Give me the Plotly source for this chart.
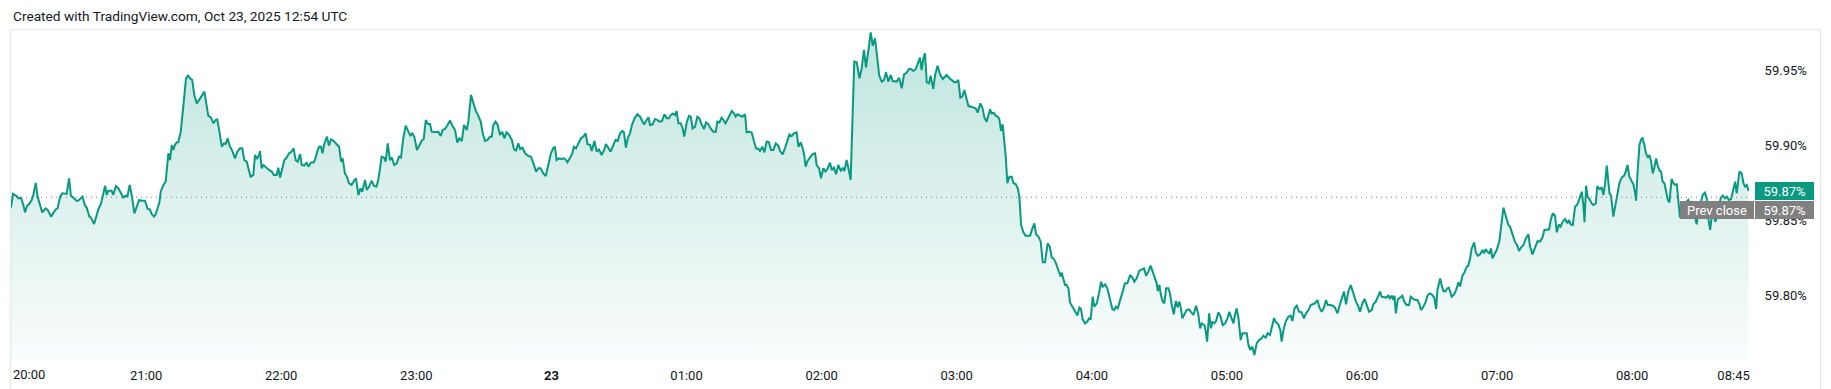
import pandas as pd
import plotly.graph_objects as go

# ---------------- data ----------------
session_start = "2025-10-22 20:00"
minutes_after_start = [
    0.0, 0.9, 2.5, 3.3, 4.3, 4.7, 5.5, 6.2, 7.1, 8.0, 9.2, 9.9, 11.0, 11.8, 12.9, 13.9, 15.4, 16.3, 17.8, 18.8,
    19.8, 20.7, 21.8, 22.8, 24.0, 24.7, 25.8, 26.6, 27.7, 29.2, 29.9, 31.7, 32.9, 33.6, 34.8, 35.5, 36.9, 38.0, 38.8, 40.0,
    41.8, 42.5, 43.2, 44.0, 44.7, 45.4, 46.6, 47.7, 49.2, 49.9, 51.0, 51.7, 52.7, 53.6, 54.8, 55.5, 56.9, 58.0, 59.5, 60.7,
    61.7, 62.5, 63.5, 64.3, 65.1, 65.9, 66.5, 67.7, 68.7, 69.1, 69.9, 70.6, 71.4, 72.1, 72.8, 73.6, 74.3, 75.4, 76.1, 76.8,
    77.7, 78.6, 79.5, 80.5, 81.4, 82.5, 84.0, 85.4, 85.9, 86.6, 87.6, 88.8, 89.9, 90.9, 91.6, 92.5, 93.6, 94.5, 95.3, 96.2,
    97.1, 98.0, 99.5, 100.5, 101.7, 102.7, 103.6, 104.7, 105.7, 106.4, 107.6, 108.4, 109.3, 110.1, 110.6, 111.3, 112.1, 113.6, 115.0, 115.8,
    116.7, 118.0, 118.7, 119.5, 120.5, 121.4, 122.4, 123.5, 124.6, 125.5, 126.4, 127.3, 128.4, 129.1, 130.3, 131.3, 132.1, 133.2, 134.3, 135.0,
    136.0, 136.8, 137.7, 138.3, 139.2, 140.3, 141.2, 142.1, 143.2, 144.6, 145.7, 146.6, 147.3, 148.3, 149.2, 150.1, 151.3, 152.5, 153.2, 154.3,
    155.2, 156.0, 157.2, 158.0, 159.0, 160.2, 161.2, 162.3, 163.1, 163.9, 164.6, 165.7, 166.4, 167.3, 168.3, 169.1, 170.2, 171.3, 172.3, 173.2,
    174.2, 175.3, 176.5, 177.4, 178.2, 179.1, 180.3, 181.4, 182.4, 183.3, 184.2, 185.1, 186.1, 186.8, 188.0, 189.0, 189.8, 190.8, 191.7, 192.7,
    193.9,
    195.0, 196.2, 197.2, 198.2, 199.1, 200.2, 201.2, 202.4, 203.1, 204.3, 205.3, 206.4, 207.5, 208.6, 209.5, 210.5, 211.6, 212.7, 213.5, 214.2,
    215.2, 216.1, 217.2, 218.2, 219.1, 220.1, 221.3, 222.4, 223.4, 224.3, 225.3, 226.1, 227.1, 228.3, 229.8, 230.9, 232.0, 233.2, 234.2, 235.2,
    236.4, 237.5, 238.6, 239.8, 240.9, 241.6, 242.3, 243.4, 244.6, 245.6, 246.5, 247.1, 248.3, 249.3, 250.0, 250.9, 252.0, 253.1, 254.2, 255.2,
    256.0, 257.2, 257.9, 259.1, 260.1, 261.1, 262.3, 263.4, 264.2, 265.3, 266.3, 267.5, 268.5, 269.4, 270.5, 271.5, 272.2, 273.1, 273.9, 274.9,
    275.9, 277.1, 278.2, 279.4, 280.1, 281.1, 282.3, 283.1, 283.8, 285.0, 286.0, 287.1, 287.9, 289.1, 290.2, 291.2, 292.2, 293.0, 293.9, 294.9,
    295.6, 296.4, 297.4, 298.2, 299.0, 300.1, 301.1, 301.9, 302.7, 303.8, 304.8, 305.7, 306.7, 307.8, 308.7, 309.7, 310.7, 311.9, 313.0, 313.7,
    314.6, 315.6, 316.4, 317.3, 318.1, 319.0, 320.1, 321.1, 321.8, 322.6, 323.8, 324.8, 326.0, 326.7, 327.8, 328.9, 330.0, 330.9, 331.9, 332.6,
    333.7, 334.6, 335.6, 336.6, 337.5, 338.6, 339.6, 340.8, 341.5, 342.7, 343.8, 344.8, 345.7, 346.7, 347.7, 348.9, 349.7, 350.7, 351.6, 352.3,
    352.9, 353.8, 354.9, 356.0, 357.1, 357.8, 358.9, 359.7, 360.8, 361.7, 362.6, 363.7, 364.5, 365.5, 366.4, 367.4, 368.5, 369.4, 370.1, 371.1,
    372.2, 372.9, 374.5, 375.6, 376.8, 377.8, 378.8, 379.7, 380.8, 381.8, 382.7, 383.7, 384.5, 385.6, 386.7, 387.7, 388.6, 389.6, 390.7, 391.6,
    393.3, 394.4, 395.6, 396.6, 397.8, 398.8, 399.7, 400.7, 401.8, 402.7, 403.7, 404.4, 405.2, 405.9, 406.7, 407.7, 408.4, 409.6, 410.4, 411.5,
    412.6, 413.8, 414.5, 415.5, 416.6, 417.8, 418.9, 419.8, 420.7, 421.6, 422.5, 423.4, 424.4, 425.2, 426.4, 427.4, 428.4, 429.3, 430.5, 431.4,
    432.3, 433.3, 434.1, 434.8, 435.5, 436.4, 437.3, 438.2, 438.9, 439.7, 440.4, 441.0, 441.7, 442.5, 443.4, 444.4, 445.2, 446.2, 447.1, 447.8,
    448.6, 449.6, 450.6, 451.5, 452.6, 453.6, 454.5, 455.2, 456.3, 457.3, 458.2, 459.2, 460.0, 460.4, 461.3, 462.2, 463.2, 464.1, 465.1, 466.2,
    466.6, 467.4, 468.1, 468.8, 469.6, 470.3, 471.4, 472.5, 473.6, 474.5, 475.2, 475.9, 477.0, 478.0, 478.8, 479.5, 480.4, 481.1, 482.2, 483.2,
    484.1, 484.8, 485.9, 486.9, 488.1, 489.1, 489.9, 490.7, 491.5, 492.5, 493.7, 494.7, 495.8, 497.0, 498.0, 498.9, 499.9, 501.1, 502.2, 503.2,
    504.1, 505.1, 506.1, 507.0, 508.1, 508.8, 509.3, 510.0, 510.7, 511.5, 512.2, 513.0, 514.0, 514.7, 515.5, 516.4, 517.3, 518.1, 518.9, 519.5,
    520.2, 521.1, 522.1, 523.2, 524.1, 525.1, 526.3, 527.3, 528.1, 528.8, 530.0, 530.6, 531.2, 532.1, 532.9, 533.5, 534.4, 535.2, 536.2, 537.2,
    538.1, 539.2, 540.2, 541.1, 541.8, 542.9, 543.6, 544.3, 545.1, 546.1, 546.9, 547.6, 548.8, 549.5, 550.3, 551.3, 552.2, 553.2, 554.3, 555.4,
    556.2, 557.2, 558.1, 559.1, 559.9, 560.9, 561.8, 562.8, 563.7, 564.3, 565.1, 566.1, 567.3, 568.3, 569.1, 570.0, 571.0, 572.0, 573.2, 574.2,
    575.1, 576.2, 577.2, 578.4, 579.1, 580.2, 581.1, 582.1, 583.1, 584.0, 584.8,
    585.8, 587.0, 588.0, 589.1, 590.2, 591.1, 592.0, 592.9, 593.9, 595.0, 596.2, 597.3, 598.4, 599.1, 600.2, 601.1, 602.1, 603.1, 604.3, 605.0,
    606.1, 607.0, 608.0, 608.7, 609.8, 610.7, 611.7, 612.4, 613.2, 613.9, 614.4, 615.0, 615.9, 616.9, 617.9, 618.7, 619.8, 620.9, 621.6, 622.5,
    623.6, 624.6, 625.5, 626.2, 627.3, 628.3, 629.2, 630.2, 631.2, 632.1, 632.9, 633.5, 634.7, 635.4, 636.1, 636.9, 637.9, 638.6, 639.8, 640.9,
    641.8, 642.8, 643.5, 644.6, 645.5, 646.5, 647.2, 648.0, 648.7, 649.8, 650.5, 651.4, 652.4, 653.5, 654.2, 654.9, 655.7, 656.6, 657.3, 657.9,
    658.8, 659.8, 661.0, 661.6, 662.8, 663.8, 665.0, 665.7, 666.8, 667.9, 669.0, 669.7, 670.6, 671.7, 672.7, 673.9, 674.6, 675.7, 676.4, 677.3,
    678.0, 679.1, 680.1, 681.0, 682.0, 683.1, 683.8, 684.7, 685.7, 686.5, 687.4, 688.2, 689.1, 690.2, 691.2, 691.9, 692.7, 693.6, 694.6, 695.4,
    696.1, 696.8, 697.6, 698.3, 698.8, 699.5, 700.2, 701.0, 702.0, 702.8, 703.8, 704.5, 705.4, 706.5, 707.2, 707.9, 708.7, 709.9, 710.6, 711.6,
    712.5, 713.4, 714.3, 715.3, 716.4, 717.1, 717.9, 718.7, 719.8, 720.5, 721.3, 721.7, 722.3, 723.2, 723.9, 724.5, 725.4, 726.1, 726.9, 727.6,
    728.4, 729.1, 729.8, 730.6, 731.3, 732.1, 732.8, 733.5, 734.3, 735.0, 735.8, 736.5, 737.1, 737.5, 738.3, 739.0, 739.8, 740.5, 741.2, 742.0,
    742.7, 743.5, 744.2, 744.9, 745.7, 746.4, 747.2, 747.9, 748.6, 749.4, 750.4, 751.3, 752.3, 753.1, 753.8, 754.6, 755.3, 756.0, 756.8, 757.5,
    758.3, 759.3, 760.2, 761.2, 762.0, 762.9, 763.9, 764.9, 765.7, 766.4, 767.2, 767.6, 768.6, 769.4, 770.1, 770.9, 771.6,
]
yield_pct = [
    59.8586, 59.8677, 59.8663, 59.8648, 59.8652, 59.8641, 59.8603, 59.8554, 59.8597, 59.8610, 59.8637, 59.8670, 59.8750, 59.8659, 59.8603, 59.8554, 59.8581, 59.8570, 59.8526, 59.8548,
    59.8574, 59.8581, 59.8659, 59.8681, 59.8677, 59.8677, 59.8781, 59.8666, 59.8652, 59.8630, 59.8632, 59.8659, 59.8599, 59.8586, 59.8526, 59.8519, 59.8477, 59.8537, 59.8574, 59.8614,
    59.8732, 59.8670, 59.8697, 59.8699, 59.8699, 59.8670, 59.8730, 59.8714, 59.8666, 59.8654, 59.8666, 59.8661, 59.8737, 59.8670, 59.8548, 59.8581, 59.8637, 59.8632, 59.8632, 59.8577,
    59.8574, 59.8543, 59.8526, 59.8543, 59.8577, 59.8621, 59.8692, 59.8737, 59.8759, 59.8826, 59.8948, 59.8903, 59.9003, 59.8970, 59.9003, 59.9021, 59.9021, 59.9092, 59.9181, 59.9303,
    59.9448, 59.9466, 59.9448, 59.9437, 59.9337, 59.9281, 59.9314, 59.9348, 59.9359, 59.9292, 59.9199, 59.9186, 59.9148, 59.9170, 59.9174, 59.9097, 59.8992, 59.9014, 59.9010, 59.9048,
    59.8997, 59.8974, 59.8914, 59.8959, 59.8981, 59.8981, 59.8903, 59.8892, 59.8832, 59.8792, 59.8803, 59.8937, 59.8914, 59.8932, 59.8963, 59.8848, 59.8870, 59.8848, 59.8832, 59.8826,
    59.8803, 59.8803, 59.8852, 59.8786, 59.8852, 59.8903, 59.8919, 59.8948, 59.8959, 59.8981, 59.8903, 59.8892, 59.8943, 59.8870, 59.8866, 59.8888, 59.8859, 59.8886, 59.8886, 59.8903,
    59.8959, 59.8992, 59.8992, 59.8948, 59.9014, 59.9059, 59.8999, 59.9041, 59.9032, 59.9008, 59.8992, 59.8892, 59.8914, 59.8814, 59.8792, 59.8748, 59.8737, 59.8770, 59.8781, 59.8670,
    59.8714, 59.8692, 59.8770, 59.8703, 59.8726, 59.8766, 59.8730, 59.8726, 59.8770, 59.8848, 59.8926, 59.8919, 59.8892, 59.9014, 59.8903, 59.8919, 59.8870, 59.8881, 59.8926, 59.8919,
    59.9048, 59.9132, 59.9092, 59.9063, 59.9081, 59.9059, 59.8970, 59.8999, 59.9032, 59.9043, 59.9170, 59.9143, 59.9143, 59.9092, 59.9088, 59.9088, 59.9092, 59.9063, 59.9103, 59.9110,
    59.9137,
    59.9166, 59.9126, 59.9103, 59.9019, 59.9048, 59.9030, 59.9137, 59.9103, 59.9159, 59.9337, 59.9292, 59.9232, 59.9199, 59.9159, 59.9081, 59.9030, 59.9037, 59.9059, 59.9059, 59.9137,
    59.9159, 59.9137, 59.9070, 59.9092, 59.9048, 59.9088, 59.9070, 59.9037, 59.8974, 59.8966, 59.9014, 59.8977, 59.8986, 59.8948, 59.8930, 59.8926, 59.8881, 59.8826, 59.8848, 59.8848,
    59.8814, 59.8797, 59.8870, 59.8948, 59.8986, 59.8988, 59.8903, 59.8914, 59.8910, 59.8914, 59.8903, 59.8888, 59.8919, 59.8948, 59.8992, 59.8981, 59.9014, 59.9048, 59.9059, 59.9081,
    59.9010, 59.9003, 59.8963, 59.9030, 59.8959, 59.8974, 59.8937, 59.8970, 59.9010, 59.8981, 59.8959, 59.9003, 59.9037, 59.9030, 59.9081, 59.9097, 59.9088, 59.8986, 59.9048, 59.9081,
    59.9143, 59.9186, 59.9208, 59.9192, 59.9170, 59.9141, 59.9170, 59.9188, 59.9137, 59.9141, 59.9177, 59.9170, 59.9159, 59.9163, 59.9208, 59.9181, 59.9181, 59.9203, 59.9214, 59.9203,
    59.9230, 59.9148, 59.9148, 59.9119, 59.9059, 59.9154, 59.9197, 59.9192, 59.9114, 59.9126, 59.9192, 59.9181, 59.9141, 59.9110, 59.9154, 59.9143, 59.9114, 59.9092, 59.9092, 59.9159,
    59.9154, 59.9186, 59.9170, 59.9148, 59.9170, 59.9203, 59.9230, 59.9214, 59.9192, 59.9208, 59.9199, 59.9192, 59.9208, 59.9088, 59.9092, 59.9088, 59.9026, 59.8981, 59.8977, 59.8963,
    59.8992, 59.8954, 59.9026, 59.9021, 59.8970, 59.8970, 59.9014, 59.8999, 59.8963, 59.8941, 59.8986, 59.9026, 59.9074, 59.9063, 59.9081, 59.9088, 59.8992, 59.9021, 59.8981, 59.8932,
    59.8859, 59.8899, 59.8919, 59.8943, 59.8948, 59.8870, 59.8848, 59.8781, 59.8848, 59.8826, 59.8843, 59.8886, 59.8837, 59.8852, 59.8808, 59.8870, 59.8832, 59.8848, 59.8830, 59.8903,
    59.8826, 59.8770, 59.9559, 59.9554, 59.9448, 59.9514, 59.9637, 59.9521, 59.9637, 59.9754, 59.9666, 59.9714, 59.9614, 59.9466, 59.9426, 59.9437, 59.9488, 59.9426, 59.9470, 59.9430,
    59.9426, 59.9452, 59.9381, 59.9474, 59.9486, 59.9510, 59.9510, 59.9497, 59.9510, 59.9548, 59.9586, 59.9503, 59.9581, 59.9614, 59.9421, 59.9414, 59.9466, 59.9377, 59.9470, 59.9532,
    59.9474, 59.9443, 59.9452, 59.9470, 59.9452, 59.9437, 59.9421, 59.9421, 59.9437, 59.9319, 59.9326, 59.9370, 59.9297, 59.9263, 59.9259, 59.9254, 59.9248, 59.9219, 59.9281, 59.9252,
    59.9186, 59.9159, 59.9208, 59.9241, 59.9214, 59.9219, 59.9199, 59.9192, 59.9177, 59.9097, 59.9141, 59.9059, 59.8937, 59.8748, 59.8792, 59.8792, 59.8748, 59.8743, 59.8714, 59.8659,
    59.8470, 59.8421, 59.8399, 59.8399, 59.8399, 59.8448, 59.8481, 59.8410, 59.8392, 59.8359, 59.8221, 59.8221, 59.8303, 59.8348, 59.8326, 59.8254, 59.8243, 59.8214, 59.8170, 59.8126,
    59.8154, 59.8097, 59.8070, 59.8070, 59.8048, 59.7954, 59.7926, 59.7892, 59.7866, 59.7919, 59.7910, 59.7843, 59.7814, 59.7826, 59.7848, 59.7843, 59.7992, 59.7926, 59.7948, 59.8014,
    59.8092, 59.8059, 59.8074, 59.8048, 59.7981, 59.7910, 59.7903, 59.7926, 59.7914, 59.7959, 59.8026, 59.8081, 59.8081, 59.8137, 59.8119, 59.8092, 59.8114, 59.8166, 59.8177, 59.8181,
    59.8132, 59.8159, 59.8199, 59.8163, 59.8119, 59.8081, 59.8030, 59.8070, 59.8003, 59.7959, 59.7948, 59.8048, 59.8048, 59.8014, 59.7937, 59.7874, 59.7963, 59.7921, 59.7959, 59.7919,
    59.7848, 59.7870, 59.7903, 59.7908, 59.7892, 59.7870, 59.7932, 59.7874, 59.7781, 59.7814, 59.7803, 59.7763, 59.7692, 59.7881, 59.7781, 59.7826, 59.7814, 59.7830, 59.7888, 59.7859,
    59.7803, 59.7814, 59.7848, 59.7892, 59.7859, 59.7814, 59.7874, 59.7914, 59.7852, 59.7703, 59.7748, 59.7748, 59.7748, 59.7674, 59.7637, 59.7659, 59.7603, 59.7681, 59.7703, 59.7714,
    59.7732, 59.7719, 59.7748, 59.7737, 59.7792, 59.7848, 59.7821, 59.7808, 59.7770, 59.7692, 59.7770, 59.7826, 59.7859, 59.7866, 59.7830, 59.7914, 59.7932, 59.7892, 59.7888, 59.7848,
    59.7881, 59.7903, 59.7937, 59.7941, 59.7948, 59.7970, 59.7919, 59.7892, 59.7919, 59.7970, 59.7937,
    59.7937, 59.7932, 59.7919, 59.7881, 59.7941, 59.7977, 59.8026, 59.7941, 59.8026, 59.8070, 59.8008, 59.7959, 59.7926, 59.7892, 59.7948, 59.7977, 59.7937, 59.7892, 59.7903, 59.7941,
    59.7959, 59.7992, 59.8026, 59.7992, 59.7986, 59.7986, 59.7999, 59.7981, 59.7999, 59.7970, 59.7999, 59.7881, 59.7974, 59.7986, 59.7999, 59.7959, 59.7937, 59.7937, 59.7992, 59.7981,
    59.7970, 59.7970, 59.7941, 59.7903, 59.7926, 59.7959, 59.8003, 59.8014, 59.8003, 59.7986, 59.7910, 59.8037, 59.8114, 59.8066, 59.8030, 59.8026, 59.8048, 59.8052, 59.7992, 59.8008,
    59.8037, 59.8088, 59.8059, 59.8132, 59.8154, 59.8192, 59.8199, 59.8248, 59.8314, 59.8354, 59.8288, 59.8266, 59.8274, 59.8303, 59.8281, 59.8310, 59.8292, 59.8281, 59.8314, 59.8248,
    59.8274, 59.8303, 59.8363, 59.8426, 59.8586, 59.8532, 59.8470, 59.8459, 59.8408, 59.8359, 59.8332, 59.8297, 59.8319, 59.8337, 59.8381, 59.8408, 59.8326, 59.8274, 59.8303, 59.8337,
    59.8363, 59.8359, 59.8386, 59.8437, 59.8437, 59.8441, 59.8503, 59.8548, 59.8532, 59.8421, 59.8474, 59.8459, 59.8492, 59.8510, 59.8481, 59.8503, 59.8474, 59.8470, 59.8592, 59.8603,
    59.8626, 59.8659, 59.8692, 59.8603, 59.8488, 59.8732, 59.8659, 59.8643, 59.8614, 59.8603, 59.8614, 59.8730, 59.8710, 59.8719, 59.8670, 59.8737, 59.8866, 59.8681, 59.8666, 59.8526,
    59.8603, 59.8681, 59.8748, 59.8786, 59.8799, 59.8826, 59.8870, 59.8792, 59.8759, 59.8741, 59.8681, 59.8632, 59.8803, 59.9003, 59.9037, 59.9054, 59.9003, 59.8948, 59.8919, 59.8937,
    59.8892, 59.8814, 59.8852, 59.8914, 59.8870, 59.8832, 59.8826, 59.8759, 59.8748, 59.8703, 59.8637, 59.8621, 59.8692, 59.8777, 59.8748, 59.8737, 59.8741, 59.8626, 59.8519, 59.8586,
    59.8614, 59.8581, 59.8626, 59.8637, 59.8603, 59.8630, 59.8570, 59.8514, 59.8474, 59.8559, 59.8614, 59.8670, 59.8686, 59.8648, 59.8514, 59.8437, 59.8526, 59.8570, 59.8492, 59.8514,
    59.8570, 59.8652, 59.8666, 59.8648, 59.8659, 59.8637, 59.8643, 59.8703, 59.8759, 59.8681, 59.8777, 59.8826, 59.8814, 59.8748, 59.8726, 59.8737, 59.8699,
]
prev_close = 59.8655
y_ticks = [59.80, 59.85, 59.90, 59.95]
x_tick_times = ["2025-10-22 21:00", "2025-10-22 22:00", "2025-10-22 23:00", "2025-10-23 00:00",
                "2025-10-23 01:00", "2025-10-23 02:00", "2025-10-23 03:00", "2025-10-23 04:00",
                "2025-10-23 05:00", "2025-10-23 06:00", "2025-10-23 07:00", "2025-10-23 08:00",
                "2025-10-23 08:45"]
x_tick_labels = ["21:00", "22:00", "23:00", "<b>23</b>", "01:00", "02:00", "03:00", "04:00",
                 "05:00", "06:00", "07:00", "08:00", "08:45"]
first_label = "20:00"
title_text = "Created with TradingView.com, Oct 23, 2025 12:54 UTC"

# ---------------- build ----------------
t0 = pd.Timestamp(session_start)
times = t0 + pd.to_timedelta(minutes_after_start, unit="m")
y_range = [59.757, 59.977]
x_range = [t0, t0 + pd.Timedelta(minutes=772.3)]

GREEN = "#089981"
TEXT = "#131722"
FONT = "Roboto, Arial, sans-serif"
AX = 13

fig = go.Figure()
fig.add_trace(go.Scatter(
    x=times, y=yield_pct, mode="lines",
    line=dict(color=GREEN, width=2),
    fill="tozeroy",
    fillgradient=dict(type="vertical",
                      colorscale=[[0, "rgba(8,153,129,0.02)"], [1, "rgba(8,153,129,0.26)"]],
                      start=y_range[0], stop=max(yield_pct)),
    hoverinfo="skip", showlegend=False,
))

fig.update_layout(
    width=1831, height=389,
    margin=dict(l=11, r=81, t=30, b=29, autoexpand=False),
    paper_bgcolor="white", plot_bgcolor="white",
    font=dict(family=FONT, size=AX, color=TEXT),
    showlegend=False,
    xaxis=dict(range=x_range, type="date", showgrid=False, zeroline=False, showline=False,
               automargin=False,
               tickvals=x_tick_times, ticktext=x_tick_labels, ticks="outside", ticklen=3,
               tickcolor="rgba(0,0,0,0)",
               tickfont=dict(size=AX, color=TEXT, family=FONT)),
    yaxis=dict(range=y_range, side="right", showgrid=False, zeroline=False, showline=False,
               automargin=False,
               tickvals=y_ticks, ticktext=[f"{v:.2f}%" for v in y_ticks], ticks="outside",
               ticklen=11, tickcolor="rgba(0,0,0,0)",
               tickfont=dict(size=AX, color=TEXT, family=FONT)),
)

W = 1831 - 11 - 81
def px_x(p):  # paper x from pixel column
    return (p - 11) / W

# outer frame
fig.add_shape(type="rect", xref="paper", yref="paper",
              x0=px_x(10.5), x1=px_x(1820.5), y0=-0.2, y1=(360 - 29.5) / 330,
              line=dict(color="#ececec", width=1.5), layer="below")
# previous close dotted line
fig.add_shape(type="line", xref="paper", yref="y", x0=0, x1=1, y0=prev_close, y1=prev_close,
              line=dict(color="#787b86", width=1, dash="1px,4px"), layer="above")

# title
fig.add_annotation(text=title_text, xref="paper", yref="paper", x=px_x(11), y=1, yshift=14,
                   xanchor="left", yanchor="middle", showarrow=False,
                   font=dict(size=13.7, color=TEXT, family=FONT))
# first time label (kept inside the frame like the original)
fig.add_annotation(text=first_label, xref="x", yref="paper", x=t0, y=0, yshift=-14,
                   xanchor="left", yanchor="middle", showarrow=False,
                   font=dict(size=AX, color=TEXT, family=FONT))

last = yield_pct[-1]
fig.add_annotation(text=f"{last:.2f}%", xref="paper", yref="y", x=px_x(1755), y=last,
                   xanchor="left", yanchor="middle", showarrow=False, bgcolor=GREEN,
                   width=59, height=18, borderpad=0, borderwidth=0,
                   font=dict(size=AX, color="white", family=FONT))
fig.add_annotation(text="Prev close", xref="paper", yref="y", x=px_x(1754), y=prev_close,
                   yshift=-13, xanchor="right", yanchor="middle", showarrow=False,
                   bgcolor="#808080", width=74, height=18, borderpad=0, borderwidth=0,
                   font=dict(size=AX, color="white", family=FONT))
fig.add_annotation(text=f"{prev_close:.2f}%", xref="paper", yref="y", x=px_x(1755), y=prev_close,
                   yshift=-13, xanchor="left", yanchor="middle", showarrow=False,
                   bgcolor="#808080", width=59, height=18, borderpad=0, borderwidth=0,
                   font=dict(size=AX, color="white", family=FONT))

fig.write_html("out.html", config={"displayModeBar": False})
